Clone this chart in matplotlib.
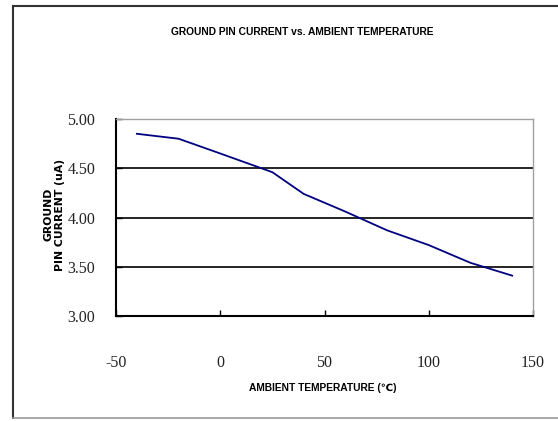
import matplotlib.pyplot as plt
from matplotlib.lines import Line2D

# ground pin current vs ambient temperature
temp_c = [-40, -20, 0, 25, 40, 60, 80, 100, 120, 140]
gnd_current_ua = [4.85, 4.80, 4.65, 4.46, 4.24, 4.06, 3.87, 3.72, 3.54, 3.41]

x_ticks = [-50, 0, 50, 100, 150]
y_ticks = [3.00, 3.50, 4.00, 4.50, 5.00]

# narrow bold headings; DejaVu covers the degree-celsius sign
heading = ['Liberation Sans', 'DejaVu Sans']

fig = plt.figure(figsize=(5.58, 4.21), dpi=100)
ax = fig.add_axes([0.2079, 0.2494, 0.7473, 0.4679])

ax.plot(temp_c, gnd_current_ua, color='#000080', linewidth=1.3, zorder=3)

ax.set_xlim(-50, 150)
ax.set_ylim(3.0, 5.0)
ax.set_xticks(x_ticks)
ax.set_yticks(y_ticks)
ax.set_xticklabels([str(t) for t in x_ticks])
ax.set_yticklabels(['%.2f' % t for t in y_ticks])

# horizontal grid only, solid black
for y in y_ticks[1:-1]:
    ax.axhline(y, color='black', linewidth=1.2, zorder=1)

for side in ['top', 'right']:
    ax.spines[side].set_color('#a0a0a0')
    ax.spines[side].set_linewidth(1.0)
for side in ['left', 'bottom']:
    ax.spines[side].set_color('black')
    ax.spines[side].set_linewidth(1.5)

ax.tick_params(axis='x', direction='in', length=4, width=1, pad=28)
ax.tick_params(axis='y', direction='in', length=4, width=1, pad=15)
for lbl in ax.get_xticklabels() + ax.get_yticklabels():
    lbl.set_fontfamily('Liberation Serif')
    lbl.set_fontsize(11.5)
    lbl.set_color('#222222')

fig.text(0.541, 0.924, 'GROUND PIN CURRENT vs. AMBIENT TEMPERATURE',
         ha='center', va='center', fontsize=7.4, fontweight='bold', family=heading)
fig.text(0.579, 0.078, 'AMBIENT TEMPERATURE (℃)',
         ha='center', va='center', fontsize=7.4, fontweight='bold', family=heading)
fig.text(0.097, 0.49, 'GROUND\nPIN CURRENT (uA)', rotation=90,
         ha='center', va='center', multialignment='center',
         fontsize=7.8, fontweight='bold', family='DejaVu Sans', linespacing=1.15)

# outer chart border
fig.add_artist(Line2D([0.0233, 0.0233], [0.007, 0.9857], color='#333333', linewidth=1.5))
fig.add_artist(Line2D([0.0233, 1.0], [0.9857, 0.9857], color='#333333', linewidth=1.5))
fig.add_artist(Line2D([0.0233, 1.0], [0.007, 0.007], color='#999999', linewidth=1.2))

fig.savefig('out.png', dpi=100)
